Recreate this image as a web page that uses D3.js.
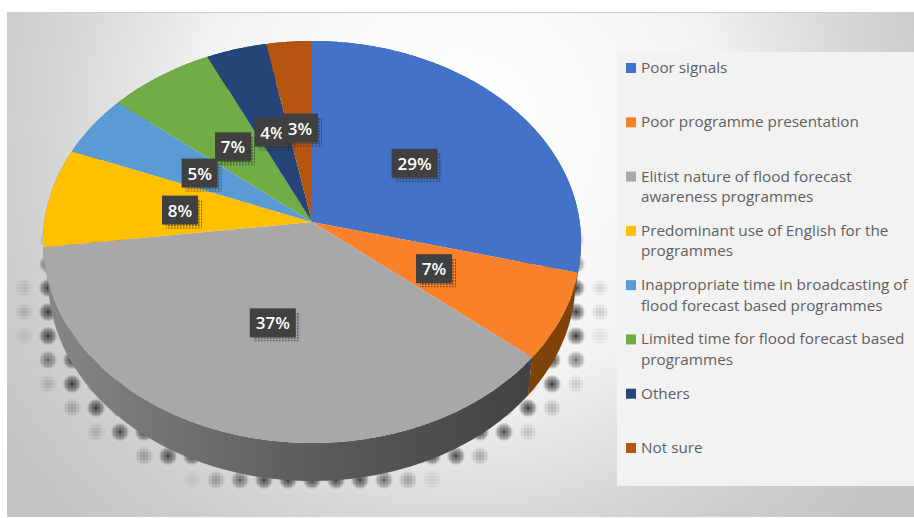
<!DOCTYPE html>
<html>
<head>
<meta charset="utf-8">
<script src="https://cdn.jsdelivr.net/npm/d3@7/dist/d3.min.js"></script>
<style>
html,body{margin:0;padding:0;background:#fff;}
svg{display:block;}
text{font-family:"Open Sans",sans-serif;}
</style>
</head>
<body>
<svg id="chart" width="914" height="518"></svg>
<script>
// Reasons listed by respondents, and their share in percent
const categories = [
  "Poor signals",
  "Poor programme presentation",
  "Elitist nature of flood forecast awareness programmes",
  "Predominant use of English for the programmes",
  "Inappropriate time in broadcasting of flood forecast based programmes",
  "Limited time for flood forecast based programmes",
  "Others",
  "Not sure"
];
const shares = [29, 7, 37, 8, 5, 7, 4, 3];
const faceColors = ["#4472c8", "#f9812a", "#a8a8a8", "#ffc000", "#5b9bd5", "#70ad47", "#264478", "#b6550f"];
const wallColors = ["#2c4c86", "#7f4208", "url(#wallGrey)", "#a67c00", "#3b6a94", "#4a7530", "#172c50", "#6f340a"];
const legendLines = [
  ["Poor signals"],
  ["Poor programme presentation"],
  ["Elitist nature of flood forecast", "awareness programmes"],
  ["Predominant use of English for the", "programmes"],
  ["Inappropriate time in broadcasting of", "flood forecast based programmes"],
  ["Limited time for flood forecast based", "programmes"],
  ["Others"],
  ["Not sure"]
];

const svg = d3.select("#chart");
const defs = svg.append("defs");

// Panel background
const bg = defs.append("radialGradient").attr("id", "panelBg")
  .attr("gradientUnits", "userSpaceOnUse")
  .attr("cx", 460).attr("cy", 130).attr("r", 560);
[[0, "#ffffff"], [0.22, "#fbfbfb"], [0.47, "#f2f2f2"], [0.59, "#e4e4e4"], [0.72, "#d6d6d6"], [0.83, "#cdcdcd"], [1, "#c4c4c4"]]
  .forEach(([o, c]) => bg.append("stop").attr("offset", o).attr("stop-color", c));
svg.append("rect").attr("x", 7).attr("y", 12).attr("width", 907).attr("height", 505).attr("fill", "url(#panelBg)");
svg.append("line").attr("x1", 7).attr("x2", 914).attr("y1", 12.5).attr("y2", 12.5).attr("stroke", "#cfcfcf");

const wallGrey = defs.append("linearGradient").attr("id", "wallGrey")
  .attr("gradientUnits", "userSpaceOnUse").attr("x1", 50).attr("x2", 530).attr("y1", 0).attr("y2", 0);
[[0, "#868686"], [0.5, "#5f5f5f"], [1, "#424242"]]
  .forEach(([o, c]) => wallGrey.append("stop").attr("offset", o).attr("stop-color", c));

const blobGrad = defs.append("radialGradient").attr("id", "blob");
[[0, 0.85], [0.3, 0.62], [0.65, 0.38], [1, 0]]
  .forEach(([o, a]) => blobGrad.append("stop").attr("offset", o).attr("stop-color", "#2a2a2a").attr("stop-opacity", a));

const labelDots = defs.append("pattern").attr("id", "labelDots")
  .attr("width", 3).attr("height", 3).attr("patternUnits", "userSpaceOnUse");
labelDots.append("rect").attr("width", 1.6).attr("height", 1.6).attr("fill", "#222").attr("opacity", 0.75);

// Tilted disc: a homography takes the unit circle to the top face of the pie,
// which keeps the apex above the centre of the ellipse.
const apex = { x: 312, y: 222 };
const tilt = -0.0995, spanX = 267.7, spanY = 199, depth = 38, baseScale = 0.98;
function project(angle, rho = 1) {
  const u = rho * Math.sin(angle), s = -rho * Math.cos(angle);
  const w = 1 + tilt * s;
  return [apex.x + spanX * u / w, apex.y + spanY * s / w];
}
function projectBase(angle) {
  const [x, y] = project(angle);
  return [apex.x + (x - apex.x) * baseScale, y + depth];
}
const line = d3.line();
const pie = d3.pie().sort(null).value(d => d);
const arcs = pie(shares);
const samples = a => {
  const n = Math.max(4, Math.ceil((a.endAngle - a.startAngle) / 0.01));
  return d3.range(n + 1).map(i => a.startAngle + (a.endAngle - a.startAngle) * i / n);
};

// Halftone drop shadow on a regular 24px grid, fading out at the rim of an ellipse
const shadow = { cx: 312, cy: 310, a: 285, b: 183 };
const blobs = [];
d3.range(24, 624, 24).forEach(x => d3.range(240, 504, 24).forEach(y => {
  const e = Math.hypot((x - shadow.cx) / shadow.a, (y - shadow.cy) / shadow.b);
  const strength = Math.max(0, Math.min(1, (1.04 - e) / 0.1));
  if (strength > 0 && e > 0.75) blobs.push({ x, y, strength });
}));
const blobG = svg.append("g");
blobs.forEach(b => {
  const g = blobG.append("g").attr("transform", `translate(${b.x},${b.y})`);
  g.append("circle").attr("r", 9.5).attr("fill", "url(#blob)").attr("opacity", Math.pow(b.strength, 1.5));
  d3.range(-2, 3).forEach(i => d3.range(-2, 3).forEach(j => {
    const d = Math.hypot(i, j) / 3;
    const o = (0.3 + 0.35 * b.strength) * (1 - d) * Math.min(1, b.strength * 3);
    if (o > 0.04) {
      g.append("rect").attr("x", i * 3 - 0.6).attr("y", j * 3 - 0.6)
        .attr("width", 1.2).attr("height", 1.2).attr("fill", "#111").attr("opacity", o);
    }
  }));
});

// Side wall, then the top face over it
svg.append("g").selectAll("path").data(arcs).join("path")
  .attr("fill", (d, i) => wallColors[i])
  .attr("d", d => {
    const t = samples(d);
    return line(t.map(a => project(a)).concat(t.slice().reverse().map(projectBase))) + "Z";
  });
svg.append("g").selectAll("path").data(arcs).join("path")
  .attr("fill", (d, i) => faceColors[i])
  .attr("d", d => line([[apex.x, apex.y]].concat(samples(d).map(a => project(a)))) + "Z");

// Legend
const legendX = 617, legendTop = 52, legendBottom = 486;
svg.append("rect").attr("x", legendX).attr("y", legendTop)
  .attr("width", 914 - legendX).attr("height", legendBottom - legendTop).attr("fill", "#f2f2f2");
const rowY = d3.scalePoint().domain(d3.range(categories.length)).range([68, 448]);
const legend = svg.append("g").selectAll("g").data(categories).join("g")
  .attr("transform", (d, i) => `translate(626,${rowY(i)})`);
legend.append("rect").attr("y", -5).attr("width", 10).attr("height", 10)
  .attr("fill", (d, i) => faceColors[i]);
legend.each(function (d, i) {
  d3.select(this).selectAll("text").data(legendLines[i]).join("text")
    .attr("x", 15).attr("y", (t, k) => 5 + k * 20.5)
    .attr("font-size", 15.3).attr("fill", "#5f5f5f").text(t => t);
});

// Percentage tags sit halfway along each slice's mid-angle
const tags = svg.append("g").selectAll("g").data(arcs).join("g")
  .attr("transform", d => {
    const [x, y] = project((d.startAngle + d.endAngle) / 2, 0.5);
    return `translate(${x},${y})`;
  });
const tagW = d => d.data >= 10 ? 46 : 36;
tags.append("rect").attr("x", d => -tagW(d) / 2 + 4).attr("y", -10)
  .attr("width", d => tagW(d)).attr("height", 29).attr("fill", "url(#labelDots)");
tags.append("rect").attr("x", d => -tagW(d) / 2).attr("y", -14)
  .attr("width", d => tagW(d)).attr("height", 29).attr("fill", "#404040");
tags.append("text").attr("text-anchor", "middle").attr("y", 7)
  .attr("font-size", 17).attr("font-weight", 600).attr("fill", "#fff")
  .text(d => d.data + "%");
</script>
</body>
</html>
